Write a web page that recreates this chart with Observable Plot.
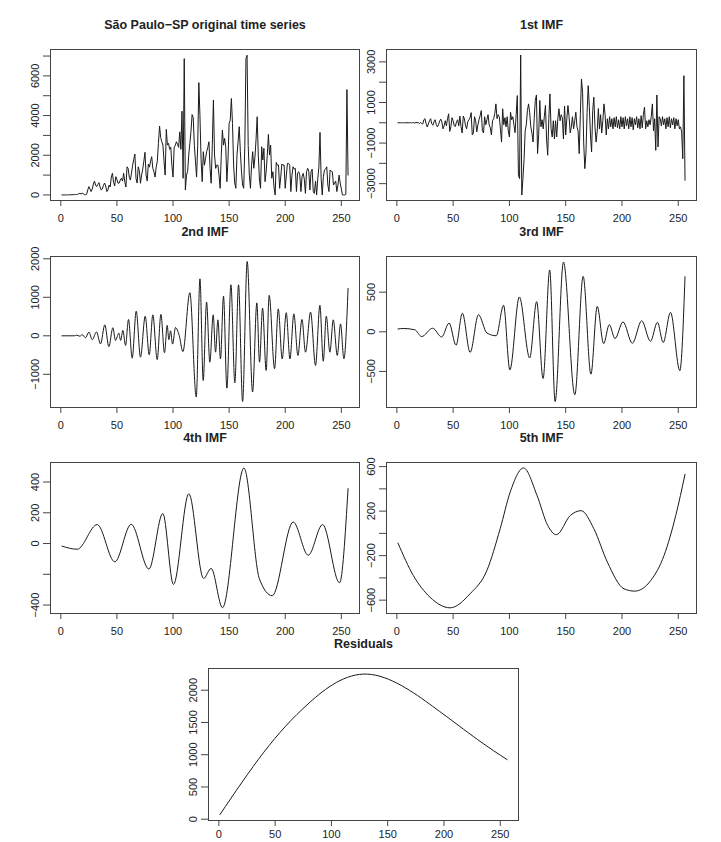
<!DOCTYPE html>
<html><head><meta charset="utf-8">
<script src="https://cdn.jsdelivr.net/npm/d3@7"></script>
<script src="https://cdn.jsdelivr.net/npm/@observablehq/plot@0.6"></script>
<style>
html,body{margin:0;padding:0;background:#fff;}
#chart{position:relative;width:721px;height:842px;background:#fff;overflow:hidden;}
</style></head><body><div id="chart"></div>
<script>
// ---------- DATA ----------
const xTicks = [0, 50, 100, 150, 200, 250];

const titles = ["São Paulo\u2212SP original time series", "1st IMF", "2nd IMF", "3rd IMF", "4th IMF", "5th IMF", "Residuals"];

// Original daily series, day 1..256
const originalCases = [
  0,0,0,0,2,2,5,5,10,10,
  15,20,20,25,30,60,80,50,90,60,
  20,10,30,250,420,300,170,300,550,700,
  500,420,530,620,400,250,300,480,600,450,
  170,250,500,400,900,1090,640,450,920,780,
  590,600,750,840,700,1090,670,400,1420,1340,
  900,750,1100,1500,1800,2060,840,600,1420,1200,
  590,1000,1300,1700,2150,1000,700,1560,1400,1700,
  1930,1340,1170,900,1400,1700,2600,3470,2900,2680,
  2510,1680,1000,3300,2510,2600,2300,2400,1500,900,
  2380,2500,2680,2560,2400,3180,2300,4220,840,6870,
  250,1000,1170,2000,2600,3200,4050,3900,2510,1700,
  900,2500,5660,4000,1800,670,2180,1500,1850,2180,
  2400,2680,1340,590,2500,4780,2010,1340,1500,1510,
  1000,335,2000,3270,2510,2850,2400,670,1800,3600,
  3770,4860,3600,1500,600,335,2000,2700,3440,2200,
  1200,500,335,2500,6870,7040,2500,1000,335,1500,
  2180,1340,1900,2800,3940,2010,800,335,2430,1760,
  2350,670,1170,2000,3050,2010,2510,840,1170,400,
  0,1640,1500,1510,335,900,1560,1500,1510,335,
  1000,1590,1590,1500,170,1000,1420,1300,1340,170,
  1090,1170,1000,170,920,1090,800,80,1170,1340,
  1200,250,1170,1300,170,80,700,0,800,1400,
  3150,840,0,920,1260,1300,1420,500,170,1260,
  1200,1170,500,600,700,170,500,1000,600,300,
  0,0,0,30,5310,1000
];

// 1st IMF, day 1..256
const imf1 = [
  0,0,0,0,0,0,0,0,0,0,
  0,5,-5,5,10,-20,30,-10,20,-40,
  20,-30,-60,150,200,-50,-210,-60,100,200,
  -50,-120,50,150,-80,-200,-100,80,180,30,
  -300,-150,100,-150,200,440,-425,-200,250,100,
  -150,-180,50,150,-150,330,-200,-500,330,200,
  -150,-300,50,150,250,500,-600,-500,300,100,
  -450,-100,150,350,600,-400,-500,300,-100,150,
  400,-100,-250,-600,100,200,450,930,200,400,
  300,-300,-950,690,-100,250,-200,300,-400,-700,
  520,150,300,-100,-490,400,1340,-2580,-2750,3340,
  -3560,-2750,-1800,-400,-100,600,930,500,-200,-500,
  -950,200,1100,1370,-1520,-600,1100,-200,150,-300,
  300,850,-800,-1600,200,1420,-300,-700,100,-800,
  100,-700,200,690,100,400,250,-800,820,-600,
  200,850,300,-500,-200,300,-300,100,520,-200,
  -400,-1520,400,2160,1500,-1000,-2260,-1500,500,1830,
  800,-600,-1440,600,1260,-200,-950,-400,700,-300,
  400,-500,100,930,400,-600,200,-300,300,-200,
  200,-300,250,-200,300,-250,150,-300,300,-200,
  250,-300,300,-150,200,-300,300,-200,250,-350,
  200,-100,300,-250,200,-300,350,-250,400,770,
  -300,100,-200,150,-100,300,930,-400,200,-1360,
  1370,-1190,300,200,-150,300,-100,200,-300,250,
  -200,300,-250,200,-100,250,-300,200,-150,150,
  -300,-200,-460,-1770,2320,-2830
];

// 2nd IMF: turning points (day, value)
const imf2Days = [1,12,14,17,19,22,25,28,31.8,35.4,39.2,42.8,46.4,48.7,51.7,53.3,55.3,57.7,60.3,63.6,67.2,71,75.2,78.8,82,85.9,89.2,92.4,94.8,96.3,97.8,99.6,102.2,105.5,108.8,115,120.7,124,126.9,129.9,132.8,135.8,137.9,140,142.3,145,148,151.6,155.1,158.4,162,166.1,170.9,174.7,177.1,179.8,183,185.7,190.5,193.8,197.3,200.9,204.2,207.7,211.3,214.9,218.1,222.6,227,230.9,233.9,236.6,239.8,242.8,246.4,249.3,252.3,256];
const imf2Values = [0,0,15,-10,30,-50,95,-100,100,-210,285,-280,210,-120,70,-120,140,-250,425,-580,640,-555,510,-495,545,-615,555,-440,270,-100,130,-215,215,10,-410,1120,-1590,1480,-1160,875,-685,545,-425,415,-600,1030,-1360,1325,-1220,1325,-1705,1930,-1460,855,-685,720,-900,1050,-855,700,-600,600,-600,570,-510,425,-425,615,-770,790,-660,510,-425,415,-510,310,-600,1230];

// 3rd IMF: turning points
const imf3Days = [1,5.6,16,22,31.8,39.8,46.4,52.6,58.2,65.1,72.5,80,88.3,94.8,100.4,108.8,118,124.2,129.9,135.8,140.6,148,158.1,165.5,172.4,178,183.7,188.7,193.8,200.9,209.2,217.5,225.3,231.5,236.6,243.1,251.4,256];
const imf3Values = [35,42,25,-60,45,-65,110,-170,235,-260,215,-15,-50,335,-480,440,-330,380,-590,780,-880,880,-795,700,-535,320,-150,90,-85,125,-145,140,-120,120,-135,245,-490,695];

// 4th IMF: turning points
const imf4Days = [1,14.6,32.4,48.1,62.7,78.5,90.9,100.4,114.1,127.2,134,144.1,163.2,177,188.4,207.1,220.5,233.3,248.4,256];
const imf4Values = [-17,-37,123,-119,125,-166,195,-266,324,-227,-162,-417,491,-230,-339,140,-76,123,-255,357];

// 5th IMF: points along the curve
const imf5Days = [1,14.6,29.4,47.3,65,80,91.8,100.7,112.6,124.5,134,141.7,154.2,163.7,175,187,201.8,211.3,225.6,237.4,247.8,256];
const imf5Values = [-87,-378,-573,-669,-543,-333,42,372,588,342,72,-12,162,204,42,-258,-498,-519,-423,-198,162,531];

// Residuals: points along the curve
const residualDays = [1,40,80,132,190,230,256];
const residualValues = [73,1040,1800,2250,1750,1233,925];

// Y-axis ticks and which of them carry labels
const yTicks1 = [0,1000,2000,3000,4000,5000,6000,7000], yLabels1 = [0,2000,4000,6000];
const yTicks2 = [-3000,-2000,-1000,0,1000,2000,3000], yLabels2 = [-3000,-1000,1000,3000];
const yTicks3 = [-1000,0,1000,2000], yLabels3 = [-1000,0,1000,2000];
const yTicks4 = [-500,0,500], yLabels4 = [-500,0,500];
const yTicks5 = [-400,-200,0,200,400], yLabels5 = [-400,0,200,400];
const yTicks6 = [-600,-400,-200,0,200,400,600], yLabels6 = [-600,-200,200,600];
const yTicks7 = [0,500,1000,1500,2000], yLabels7 = [0,500,1000,1500,2000];

// ---------- BUILD ----------
const seriesDaily = vals => vals.map((v, i) => ({t: i + 1, v}));
const seriesPts = (days, vals) => days.map((t, i) => ({t, v: vals[i]}));

const fmt = d => d < 0 ? "\u2212" + Math.abs(d) : String(d);

const layout = [
  {box: [50, 359, 49, 200],  yDomain: [-280, 7330], data: seriesDaily(originalCases), curve: "linear", ticks: yTicks1, labels: yLabels1, xPad: 8},
  {box: [386, 696, 49, 200], yDomain: [-3830, 3610], data: seriesDaily(imf1), curve: "linear", ticks: yTicks2, labels: yLabels2, xPad: 8},
  {box: [50, 359, 256, 407], yDomain: [-1862, 2060], data: seriesPts(imf2Days, imf2Values), curve: "monotone-x", ticks: yTicks3, labels: yLabels3, xPad: 8},
  {box: [386, 696, 256, 407], yDomain: [-955, 950], data: seriesPts(imf3Days, imf3Values), curve: "monotone-x", ticks: yTicks4, labels: yLabels4, xPad: 8},
  {box: [50, 359, 462, 613], yDomain: [-455, 527], data: seriesPts(imf4Days, imf4Values), curve: "monotone-x", ticks: yTicks5, labels: yLabels5, xPad: 8},
  {box: [386, 696, 462, 613], yDomain: [-720, 637], data: seriesPts(imf5Days, imf5Values), curve: "monotone-x", ticks: yTicks6, labels: yLabels6, xPad: 8},
  {box: [208, 518, 668, 820], yDomain: [-20, 2337], data: seriesPts(residualDays, residualValues), curve: "natural", ticks: yTicks7, labels: yLabels7, xPad: 4}
];

const container = document.getElementById("chart");
const ML = 50, MT = 49, MR = 12, MB = 34;

layout.forEach((p, i) => {
  const [x0, x1, y0, y1] = p.box;
  const left = x0 - ML, top = y0 - MT;
  const mb = Math.min(MB, 842 - y1);
  const width = (x1 - x0) + ML + MR, height = (y1 - y0) + MT + mb;
  const svg = Plot.plot({
    width, height,
    marginLeft: ML, marginRight: MR, marginTop: MT, marginBottom: mb,
    style: {fontFamily: "'Liberation Sans', Arial, Helvetica, sans-serif", fontSize: "11px", color: "#222", background: "transparent", overflow: "visible"},
    x: {domain: [-9.2, 266.2]},
    y: {domain: p.yDomain},
    marks: [
      Plot.line(p.data, {x: "t", y: "v", curve: p.curve, stroke: "#1a1a1a", strokeWidth: 1}),
      Plot.frame({stroke: "#444", strokeWidth: 1}),
      Plot.axisX({ticks: xTicks, tickSize: 6, tickPadding: p.xPad, tickFormat: fmt, label: null, stroke: "#444", fill: "#222"}),
      Plot.axisY({ticks: p.ticks, tickSize: 7, tickPadding: 5, tickRotate: -90, tickFormat: d => p.labels.includes(d) ? fmt(d) : "", label: null, stroke: "#444", fill: "#222"}),
      Plot.text([titles[i]], {text: d => d, frameAnchor: "top", dy: -25, lineAnchor: "middle", fontWeight: "bold", fontSize: 12.5, fill: "#222"})
    ]
  });
  svg.style.position = "absolute";
  svg.style.left = left + "px";
  svg.style.top = top + "px";
  container.appendChild(svg);
});
</script></body></html>
